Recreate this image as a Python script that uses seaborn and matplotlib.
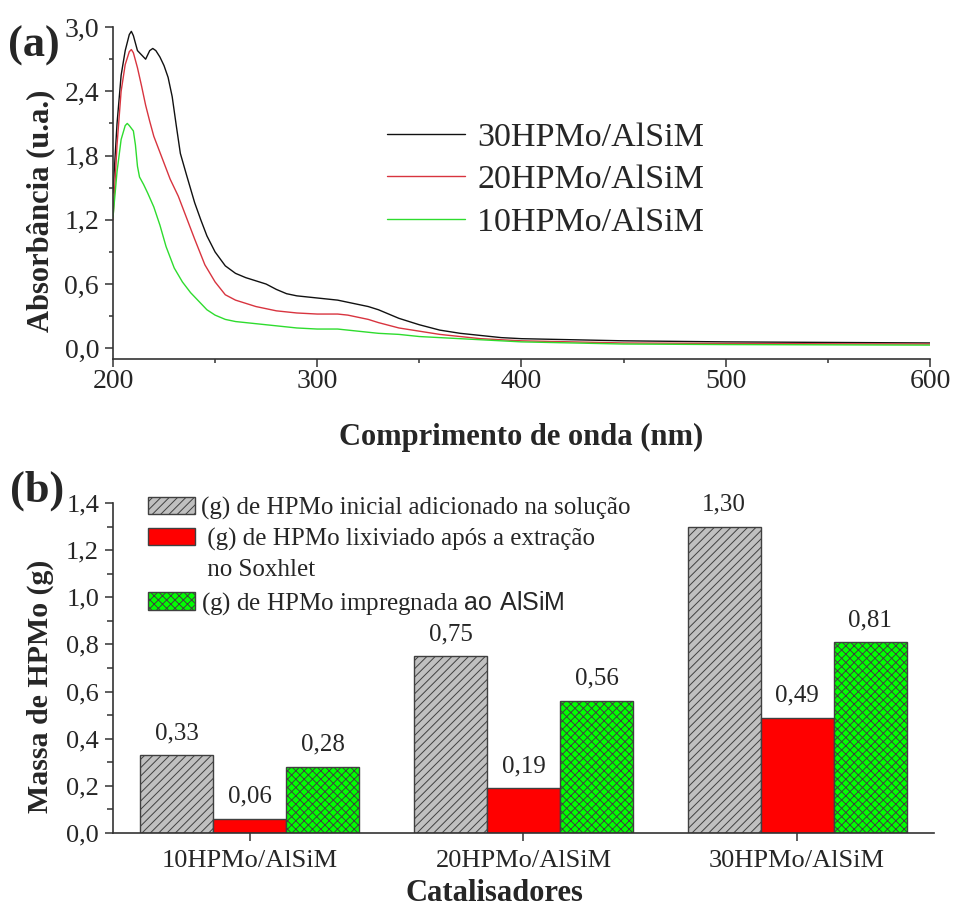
import numpy as np
import pandas as pd
import matplotlib
matplotlib.use("Agg")
import matplotlib.pyplot as plt
import seaborn as sns
from matplotlib.ticker import FixedLocator, FuncFormatter
from matplotlib.patches import Patch
from matplotlib.lines import Line2D

# ---------------- data: panel (a) UV-Vis spectra ----------------
wl_30 = [200, 202, 204, 206, 208, 209, 210, 212, 214, 216, 218, 219.5, 221, 223, 225, 227,
         229, 231, 233, 236, 240, 243, 246, 250, 255, 260, 265, 270, 275, 280, 285, 290,
         300, 305, 310, 315, 320, 325, 330, 335, 340, 350, 360, 370, 380, 390, 400, 425,
         450, 500, 550, 600]
abs_30 = [1.45, 2.10, 2.55, 2.78, 2.93, 2.96, 2.92, 2.78, 2.74, 2.70, 2.78, 2.80, 2.78, 2.72,
          2.64, 2.53, 2.35, 2.08, 1.82, 1.62, 1.36, 1.20, 1.05, 0.90, 0.77, 0.70, 0.66, 0.63,
          0.60, 0.55, 0.51, 0.49, 0.47, 0.46, 0.45, 0.43, 0.41, 0.39, 0.36, 0.32, 0.28, 0.22,
          0.17, 0.14, 0.12, 0.10, 0.09, 0.08, 0.07, 0.06, 0.055, 0.05]

wl_20 = [200, 202, 204, 206, 208, 209, 210, 212, 214, 216, 218, 220, 222, 225, 228, 232,
         236, 240, 245, 250, 255, 260, 265, 270, 275, 280, 290, 300, 310, 315, 320, 325,
         330, 340, 350, 360, 370, 380, 390, 400, 450, 500, 600]
abs_20 = [1.20, 1.90, 2.40, 2.65, 2.77, 2.79, 2.76, 2.62, 2.45, 2.27, 2.12, 1.98, 1.88, 1.73,
          1.58, 1.42, 1.22, 1.02, 0.78, 0.62, 0.50, 0.45, 0.42, 0.39, 0.37, 0.35, 0.33, 0.32,
          0.32, 0.31, 0.29, 0.27, 0.24, 0.19, 0.16, 0.13, 0.11, 0.09, 0.08, 0.07, 0.05, 0.045,
          0.04]

wl_10 = [200, 202, 204, 206, 207, 208, 210, 211, 212, 213, 215, 217, 220, 223, 226, 230,
         234, 238, 242, 246, 250, 255, 260, 270, 280, 290, 300, 310, 320, 330, 340, 350,
         360, 370, 380, 400, 450, 500, 600]
abs_10 = [1.22, 1.65, 1.95, 2.08, 2.10, 2.08, 2.03, 1.90, 1.70, 1.60, 1.53, 1.45, 1.32, 1.15,
          0.95, 0.75, 0.62, 0.52, 0.44, 0.36, 0.31, 0.27, 0.25, 0.23, 0.21, 0.19, 0.18, 0.18,
          0.16, 0.14, 0.13, 0.11, 0.10, 0.09, 0.08, 0.06, 0.04, 0.035, 0.03]

spectra_names = ["30HPMo/AlSiM", "20HPMo/AlSiM", "10HPMo/AlSiM"]
spectra_colors = ["#111111", "#D8343F", "#2EDC2E"]

# ---------------- data: panel (b) bars ----------------
categories = ["10HPMo/AlSiM", "20HPMo/AlSiM", "30HPMo/AlSiM"]
inicial = [0.33, 0.75, 1.30]
lixiviado = [0.06, 0.19, 0.49]
impregnada = [0.28, 0.56, 0.81]
series_labels = ["(g) de HPMo inicial adicionado na solução",
                 " (g) de HPMo lixiviado após a extração",
                 r"(g) de HPMo impregnada $\mathsf{ao\ AlSiM}$"]
extra_line = " no Soxhlet"
bar_colors = ["#C0C0C0", "#FF0000", "#00FF00"]
bar_hatches = ["////", None, "xxxx"]

yticks_a = [0.0, 0.6, 1.2, 1.8, 2.4, 3.0]
xticks_a = [200, 300, 400, 500, 600]
yticks_b = [0.0, 0.2, 0.4, 0.6, 0.8, 1.0, 1.2, 1.4]

# ---------------- style ----------------
sns.set_style("ticks")
plt.rcParams["font.family"] = ["Liberation Serif", "DejaVu Serif"]
plt.rcParams["mathtext.fontset"] = "custom"
plt.rcParams["mathtext.rm"] = "Liberation Serif"
plt.rcParams["mathtext.sf"] = "Liberation Sans"
plt.rcParams["hatch.linewidth"] = 0.7
spine_col = "#333333"

comma = FuncFormatter(lambda v, p: f"{v:.1f}".replace(".", ","))

fig = plt.figure(figsize=(9.54, 9.08), dpi=100)
ax1 = fig.add_axes([0.1184, 0.6046, 0.8564, 0.3656])
ax2 = fig.add_axes([0.1184, 0.0826, 0.8606, 0.3634])

# ---------------- panel (a) ----------------
frames = []
for name, wl, ab in zip(spectra_names, [wl_30, wl_20, wl_10], [abs_30, abs_20, abs_10]):
    frames.append(pd.DataFrame({"wl": wl, "abs": ab, "amostra": name}))
df_a = pd.concat(frames, ignore_index=True)
sns.lineplot(data=df_a, x="wl", y="abs", hue="amostra", hue_order=spectra_names,
             palette=spectra_colors, linewidth=1.0, estimator=None, errorbar=None,
             legend=False, ax=ax1)
ax1.set_xlim(200, 600)
ax1.set_ylim(-0.1, 3.0)
ax1.set_xticks(xticks_a)
ax1.xaxis.set_minor_locator(FixedLocator([250, 350, 450, 550]))
ax1.set_yticks(yticks_a)
ax1.yaxis.set_minor_locator(FixedLocator([0.3, 0.9, 1.5, 2.1, 2.7]))
ax1.yaxis.set_major_formatter(comma)
ax1.tick_params(axis="both", which="major", labelsize=20, length=6, width=1.1,
                color=spine_col, direction="out")
ax1.tick_params(axis="both", which="minor", length=3, width=1.1, color=spine_col,
                direction="out")
ax1.tick_params(axis="x", which="major", pad=1)
ax1.tick_params(axis="y", which="major", pad=4)
for s in ["top", "right"]:
    ax1.spines[s].set_visible(False)
for s in ["left", "bottom"]:
    ax1.spines[s].set_color(spine_col)
    ax1.spines[s].set_linewidth(1.2)
ax1.set_xlabel("Comprimento de onda (nm)", fontsize=22, fontweight="bold")
ax1.set_ylabel("Absorbância (u.a.)", fontsize=22, fontweight="bold")
ax1.xaxis.label.set_va("center")
ax1.yaxis.label.set_va("center")
ax1.xaxis.set_label_coords(0.5, -0.235)
ax1.yaxis.set_label_coords(-0.089, 0.446)
handles_a = [Line2D([0], [0], color=c, lw=1.0) for c in spectra_colors]
ax1.legend(handles_a, spectra_names, fontsize=24.5, frameon=False, loc="upper left",
           bbox_to_anchor=(0.319, 0.755), handlelength=2.3, handletextpad=0.35,
           labelspacing=0.34, borderaxespad=0)

# ---------------- panel (b) ----------------
frames = []
for lab, vals in zip(series_labels, [inicial, lixiviado, impregnada]):
    frames.append(pd.DataFrame({"Catalisador": categories, "Massa": vals, "Serie": lab}))
df_b = pd.concat(frames, ignore_index=True)
sns.barplot(data=df_b, x="Catalisador", y="Massa", hue="Serie", hue_order=series_labels,
            order=categories, palette=bar_colors, saturation=1, width=0.8,
            edgecolor="#404040", linewidth=1.0, errorbar=None, legend=False, ax=ax2)
for cont, h in zip(ax2.containers, bar_hatches):
    for bar in cont:
        if h:
            bar.set_hatch(h)
    ax2.bar_label(cont, labels=[f"{b.get_height():.2f}".replace(".", ",") for b in cont],
                  padding=8, fontsize=18)
ax2.set_xlim(-0.5, 2.5)
ax2.set_ylim(0, 1.4)
ax2.set_yticks(yticks_b)
ax2.yaxis.set_minor_locator(FixedLocator(np.arange(0.1, 1.4, 0.2)))
ax2.yaxis.set_major_formatter(comma)
ax2.tick_params(axis="both", which="major", labelsize=19, length=6, width=1.1,
                color=spine_col, direction="out")
ax2.tick_params(axis="y", which="minor", length=4, width=1.1, color=spine_col,
                direction="out")
ax2.tick_params(axis="x", which="major", pad=6)
ax2.tick_params(axis="y", which="major", pad=4)
for s in ["top", "right"]:
    ax2.spines[s].set_visible(False)
for s in ["left", "bottom"]:
    ax2.spines[s].set_color(spine_col)
    ax2.spines[s].set_linewidth(1.2)
ax2.set_xlabel("Catalisadores", fontsize=22, fontweight="bold")
ax2.set_ylabel("Massa de HPMo (g)", fontsize=21.5, fontweight="bold")
ax2.xaxis.label.set_va("center")
ax2.yaxis.label.set_va("center")
ax2.xaxis.set_label_coords(0.465, -0.182)
ax2.yaxis.set_label_coords(-0.088, 0.445)
handles_b = [Patch(facecolor=c, edgecolor="#404040", hatch=h, linewidth=1.0)
             for c, h in zip(bar_colors, bar_hatches)]
blank = Patch(facecolor="none", edgecolor="none")
ax2.legend([handles_b[0], handles_b[1], blank, handles_b[2]],
           [series_labels[0], series_labels[1], extra_line, series_labels[2]],
           fontsize=18, frameon=False, loc="upper left",
           bbox_to_anchor=(0.03, 1.05), handlelength=1.9, handleheight=0.7,
           handletextpad=0.25, labelspacing=0.32, borderaxespad=0)

fig.text(0.008, 0.950, "(a)", fontsize=32, fontweight="bold", va="center", ha="left")
fig.text(0.010, 0.460, "(b)", fontsize=32, fontweight="bold", va="center", ha="left")

fig.savefig("out.png", dpi=100)
